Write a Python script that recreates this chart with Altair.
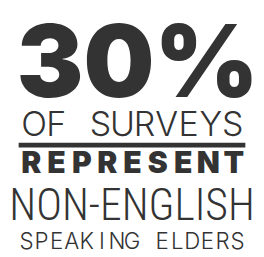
import altair as alt
import pandas as pd

INK = "#333333"
OFF = 8  # page margin

headline = "30%"
line2 = "OF SURVEYS"
line3 = "REPRESENT"
line4 = "NON-ENGLISH"
line5 = "SPEAKING ELDERS"


def chars(s):
    return pd.DataFrame({"ch": list(s), "i": list(range(len(s)))})


def tracked(s, left, right, baseline_y, size, weight, font="Inter"):
    n = len(s)
    return alt.Chart(chars(s)).mark_text(
        align="center", baseline="alphabetic", font=font, fontSize=size,
        fontWeight=weight, color=INK
    ).encode(
        x=alt.X("i:Q", scale=alt.Scale(domain=[0, n - 1], range=[left - OFF, right - OFF]), axis=None),
        y=alt.value(baseline_y - OFF),
        text="ch:N",
    )


big = alt.Chart(pd.DataFrame({"t": [headline]})).mark_text(
    align="left", baseline="alphabetic", font="Inter", fontSize=103, fontWeight=900, color=INK
).encode(x=alt.value(17 - OFF), y=alt.value(96 - OFF), text="t:N")

l2 = tracked(line2, 35, 240, 136, 35, 300)

rule = alt.Chart(pd.DataFrame({"a": [0]})).mark_rule(color=INK, strokeWidth=5).encode(
    x=alt.value(19 - OFF), x2=alt.value(253 - OFF), y=alt.value(145.5 - OFF)
)

l3 = tracked(line3, 32, 241, 174, 31, 900)

l4 = alt.Chart(pd.DataFrame({"t": [line4]})).mark_text(
    align="center", baseline="alphabetic", font="Roboto Condensed", fontSize=45, fontWeight=300, color=INK
).encode(x=alt.value(136 - OFF), y=alt.value(223 - OFF), text="t:N")

l5 = tracked(line5, 27, 245, 253, 23, 300)

chart = alt.layer(big, l2, rule, l3, l4, l5).resolve_scale(x="independent").properties(
    width=256, height=249, padding=0, autosize=alt.AutoSizeParams(type="none"), background="white"
).configure_view(stroke=None)

chart.save("out.html", embed_options={"renderer": "svg", "actions": False})
